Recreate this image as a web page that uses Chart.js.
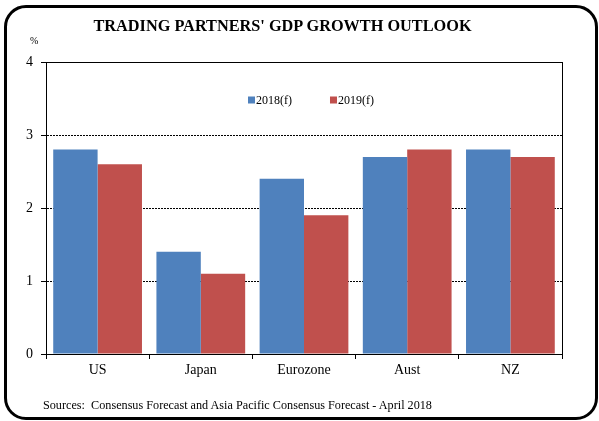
<!DOCTYPE html>
<html>
<head>
<meta charset="utf-8">
<script src="https://cdn.jsdelivr.net/npm/chart.js@4.4.0/dist/chart.umd.min.js"></script>
<style>
  html, body { margin: 0; padding: 0; background: #fff; }
  #wrap { position: relative; width: 599px; height: 421px; overflow: hidden; }
  #frame { position: absolute; left: 4px; top: 5px; width: 594px; height: 415px; box-sizing: border-box;
           border: 3px solid #000; border-radius: 22px; pointer-events: none; }
  canvas { position: absolute; left: 0; top: 0; }
  .txt { position: absolute; font-family: "Liberation Serif", "Times New Roman", serif; color: #000; white-space: nowrap; }
  #title { left: 0; width: 565px; top: 16px; text-align: center; font-weight: bold; font-size: 16.3px; }
  #unit { left: 30px; top: 35px; font-size: 10px; }
  #source { left: 43px; top: 398px; font-size: 12.2px; }
</style>
</head>
<body>
<div id="wrap">
  <canvas id="gdpChart" width="599" height="421"></canvas>
  <div class="txt" id="title">TRADING PARTNERS' GDP GROWTH OUTLOOK</div>
  <div class="txt" id="unit">%</div>
  <div class="txt" id="source">Sources:&nbsp; Consensus Forecast and Asia Pacific Consensus Forecast - April 2018</div>
  <div id="frame"></div>
</div>
<script>
const categories = ['US', 'Japan', 'Eurozone', 'Aust', 'NZ'];
const growth2018 = [2.8, 1.4, 2.4, 2.7, 2.8];
const growth2019 = [2.6, 1.1, 1.9, 2.8, 2.7];
const seriesLabels = ['2018(f)', '2019(f)'];
const yTicks = [0, 1, 2, 3, 4];

const FONT = '"Liberation Serif", "Times New Roman", serif';

// box round the plot area + legend inside it
const plotExtras = {
    id: 'plotExtras',
    afterDatasetsDraw(chart) {
        const { ctx, chartArea: a } = chart;
        ctx.save();
        ctx.strokeStyle = '#000';
        ctx.lineWidth = 1;
        ctx.strokeRect(Math.round(a.left) + 0.5, Math.round(a.top) + 0.5,
            Math.round(a.right - a.left), Math.round(a.bottom - a.top));

        ctx.font = '12px ' + FONT;
        ctx.textBaseline = 'middle';
        ctx.fillStyle = '#000';
        let x = 248;
        const y = 100;
        chart.data.datasets.forEach(ds => {
            ctx.fillStyle = ds.backgroundColor;
            ctx.fillRect(x, y - 3.5, 7, 7);
            ctx.fillStyle = '#000';
            ctx.fillText(ds.label, x + 8, y + 0.5);
            x += 8 + ctx.measureText(ds.label).width + 38;
        });
        ctx.restore();
    }
};

new Chart(document.getElementById('gdpChart').getContext('2d'), {
    type: 'bar',
    data: {
        labels: categories,
        datasets: [
            { label: seriesLabels[0], data: growth2018, backgroundColor: '#4F81BD', borderWidth: 0 },
            { label: seriesLabels[1], data: growth2019, backgroundColor: '#C0504D', borderWidth: 0 }
        ]
    },
    options: {
        responsive: false,
        animation: false,
        devicePixelRatio: 1,
        layout: { padding: { left: 0, right: 37, top: 62, bottom: 37 } },
        categoryPercentage: 0.86,
        barPercentage: 1,
        plugins: { legend: { display: false }, title: { display: false }, tooltip: { enabled: false } },
        scales: {
            x: {
                grid: { offset: true, drawOnChartArea: false, drawTicks: true, tickLength: 5, color: '#000', tickColor: '#000' },
                border: { display: true, color: '#000' },
                ticks: { color: '#000', font: { family: FONT, size: 14 }, padding: 3, maxRotation: 0 },
                afterFit(scale) { scale.height = 30; }
            },
            y: {
                min: yTicks[0],
                max: yTicks[yTicks.length - 1],
                afterBuildTicks(scale) { scale.ticks = yTicks.map(v => ({ value: v })); },
                grid: {
                    color: c => (c.tick && c.tick.value > 0 && c.tick.value < 4) ? '#000' : 'rgba(0,0,0,0)',
                    tickColor: '#000',
                    tickLength: 5,
                    lineWidth: 1
                },
                border: { display: true, color: '#000', dash: [2, 1] },
                ticks: { color: '#000', font: { family: FONT, size: 14 }, padding: 8 },
                afterFit(scale) { scale.width = 46; }
            }
        }
    },
    plugins: [plotExtras]
});
</script>
</body>
</html>
